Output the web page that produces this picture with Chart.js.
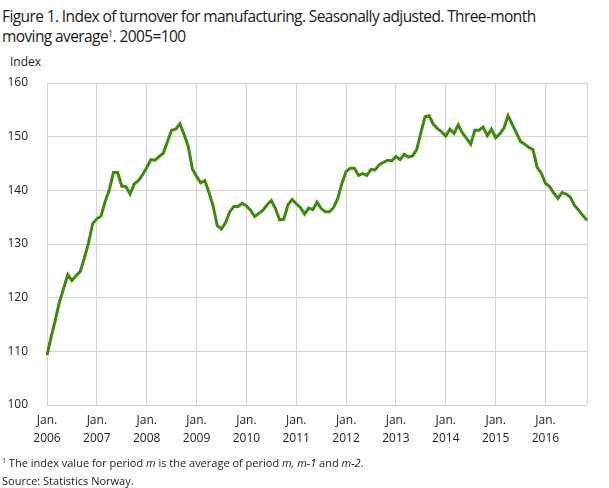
<!DOCTYPE html>
<html>
<head>
<meta charset="utf-8">
<script src="https://cdn.jsdelivr.net/npm/chart.js@4"></script>
<style>
  body { margin: 0; background: #fff; font-family: "Open Sans", sans-serif; color: #222; }
  #wrap { position: relative; width: 609px; height: 488px; overflow: hidden; }
  #title { position: absolute; left: 2px; top: 6px; font-size: 15.5px; line-height: 20px; letter-spacing: -0.6px; color: #1a1a1a; }
  #title sup { font-size: 9px; vertical-align: 5px; line-height: 0; }
  #unit { position: absolute; left: 10px; top: 53px; font-size: 12px; }
  #note { position: absolute; left: 2px; top: 454px; font-size: 11px; line-height: 18px; }
  #note sup { font-size: 7px; vertical-align: 4px; line-height: 0; }
  canvas { position: absolute; left: 0; top: 0; }
</style>
</head>
<body>
<div id="wrap">
  <div id="title">Figure 1. Index of turnover for manufacturing. Seasonally adjusted. Three-month<br>moving average<sup>1</sup>. 2005=100</div>
  <div id="unit">Index</div>
  <canvas id="turnoverChart" width="609" height="488"></canvas>
  <div id="note"><sup>1</sup> The index value for period <i>m</i> is the average of period <i>m, m-1</i> and <i>m-2</i>.<br>Source: Statistics Norway.</div>
</div>
<script>
// Monthly index values, Jan. 2006 - Nov. 2016
var years = ["2006", "2007", "2008", "2009", "2010", "2011", "2012", "2013", "2014", "2015", "2016"];
var v2006 = [109.3, 112.7, 115.8, 119.2, 121.7, 124.3, 123.2, 124.1, 124.9, 127.4, 130.2, 133.8];
var v2007 = [134.7, 135.2, 137.9, 140.1, 143.3, 143.3, 140.8, 140.7, 139.3, 141.2, 141.8, 142.9];
var v2008 = [144.2, 145.7, 145.6, 146.3, 146.9, 149.1, 151.2, 151.4, 152.4, 150.4, 148.2, 144.0];
var v2009 = [142.6, 141.4, 141.8, 139.6, 137.0, 133.4, 132.8, 134.0, 136.0, 137.0, 137.0, 137.6];
var v2010 = [137.1, 136.3, 135.1, 135.7, 136.3, 137.3, 138.1, 136.6, 134.5, 134.6, 137.3, 138.3];
var v2011 = [137.5, 136.8, 135.6, 136.7, 136.4, 137.8, 136.6, 136.0, 136.0, 136.8, 138.5, 141.3];
var v2012 = [143.5, 144.1, 144.1, 142.8, 143.1, 142.8, 143.9, 143.8, 144.8, 145.2, 145.6, 145.5];
var v2013 = [146.3, 145.7, 146.7, 146.2, 146.4, 147.6, 150.7, 153.7, 153.9, 152.3, 151.5, 150.9];
var v2014 = [150.1, 151.4, 150.6, 152.2, 150.7, 149.7, 148.6, 151.2, 151.2, 151.8, 150.2, 151.4];
var v2015 = [149.8, 150.5, 151.6, 153.9, 152.3, 150.7, 149.1, 148.6, 148.0, 147.6, 144.3, 143.2];
var v2016 = [141.3, 140.7, 139.5, 138.5, 139.6, 139.3, 138.7, 137.2, 136.3, 135.3, 134.4];
var yTicks = [100, 110, 120, 130, 140, 150, 160];

var values = [].concat(v2006, v2007, v2008, v2009, v2010, v2011, v2012, v2013, v2014, v2015, v2016);

// one label per month, only January gets a visible tick label
var labels = [];
for (var i = 0; i < values.length; i++) {
  labels.push(years[Math.floor(i / 12)] + "M" + String(i % 12 + 1).padStart(2, "0"));
}
var lastIdx = labels.length - 1;
var gridGrey = "#d4d4d4";

var ctx = document.getElementById('turnoverChart').getContext('2d');
var chart = new Chart(ctx, {
  type: 'line',
  data: {
    labels: labels,
    datasets: [{
      data: values,
      borderColor: "#3d8b0c",
      borderWidth: 3,
      pointRadius: 0,
      tension: 0,
      fill: false
    }]
  },
  options: {
    responsive: false,
    animation: false,
    devicePixelRatio: 1,
    layout: { padding: { left: 0, right: 22, top: 83, bottom: 43 } },
    plugins: { legend: { display: false }, tooltip: { enabled: false } },
    scales: {
      x: {
        type: 'category',
        offset: false,
        border: { display: false },
        grid: {
          drawTicks: false,
          color: function (c) { return (c.index % 12 === 0 || c.index === lastIdx) ? gridGrey : 'rgba(0,0,0,0)'; }
        },
        ticks: {
          autoSkip: false,
          maxRotation: 0,
          padding: 7,
          color: "#222",
          font: { family: "Open Sans", size: 12, lineHeight: 1.5 },
          callback: function (val, idx) {
            return idx % 12 === 0 ? ["Jan.", years[idx / 12]] : "";
          }
        },
        afterFit: function (s) { s.height = 40; }
      },
      y: {
        min: yTicks[0],
        max: yTicks[yTicks.length - 1],
        border: { display: false },
        grid: { drawTicks: false, color: gridGrey },
        ticks: {
          stepSize: 10,
          padding: 19,
          color: "#222",
          font: { family: "Open Sans", size: 12 }
        },
        afterBuildTicks: function (s) { s.ticks = yTicks.map(function (t) { return { value: t }; }); },
        afterFit: function (s) { s.width = 47; }
      }
    }
  }
});
</script>
</body>
</html>
